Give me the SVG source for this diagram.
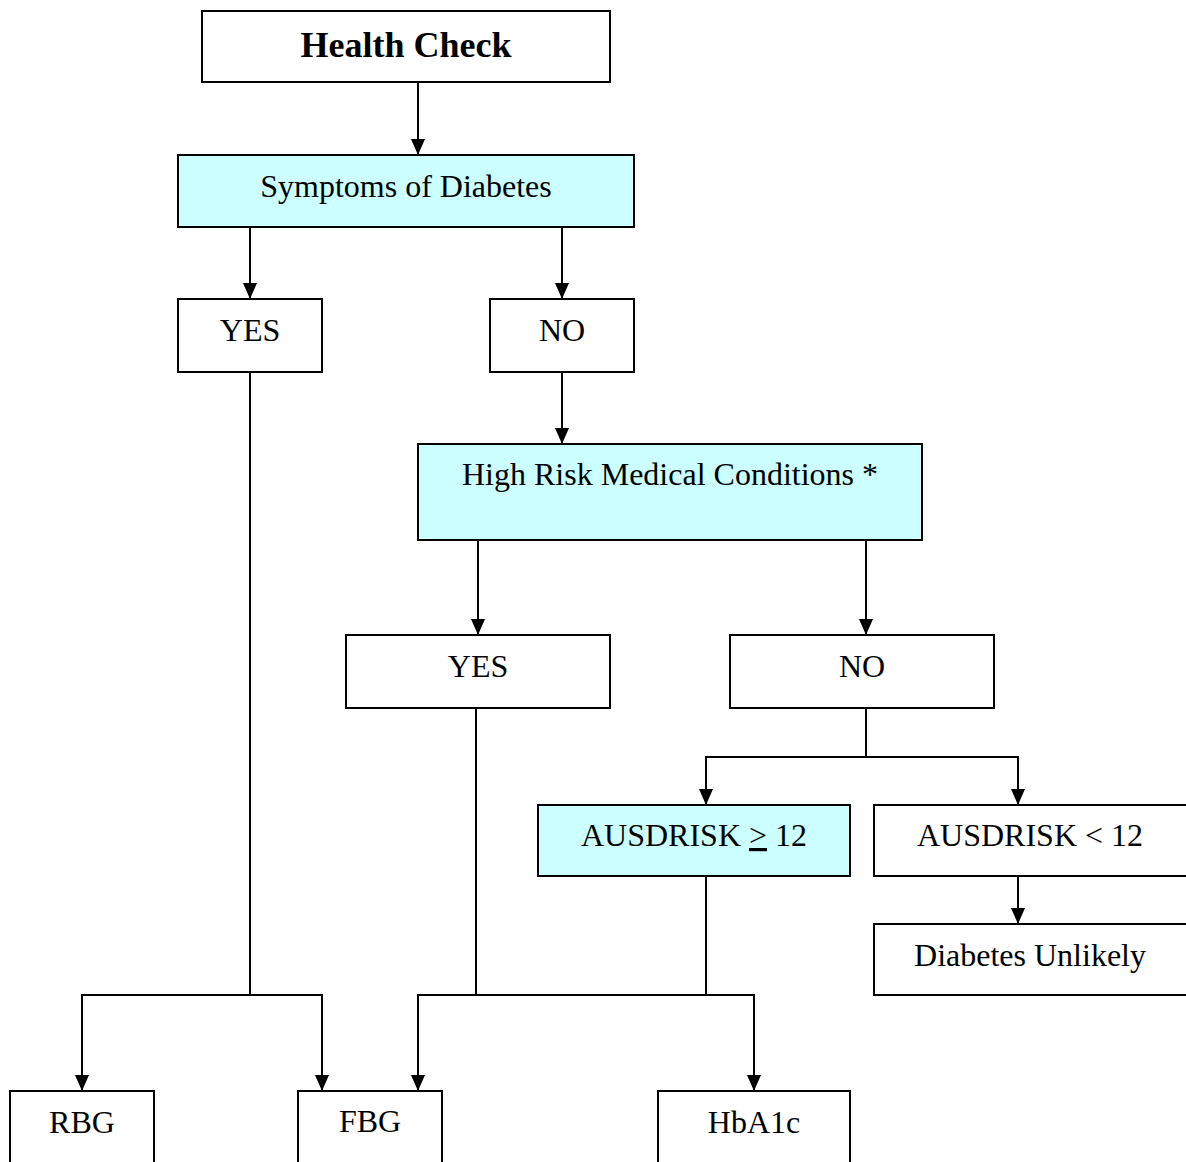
<svg xmlns="http://www.w3.org/2000/svg" width="1186" height="1162" viewBox="0 0 1186 1162">
<style>
.box{fill:#fff;stroke:#000;stroke-width:2}
.cyan{fill:#ccffff;stroke:#000;stroke-width:2}
.t{font-family:"Liberation Serif","Times New Roman",serif;font-size:32px;fill:#000;text-anchor:middle}
.b{font-weight:bold;font-size:36px}
.c{fill:none;stroke:#000;stroke-width:2}
</style>
<defs>
<marker id="ah" markerUnits="userSpaceOnUse" markerWidth="16" markerHeight="14" refX="16" refY="7" orient="auto" viewBox="0 0 16 14">
<path d="M0,0 L16,7 L0,14 Z" fill="#000"/>
</marker>
</defs>
<rect width="1186" height="1162" fill="#fff"/>
<g id="connectors">
<path class="c" d="M418,82 V155" marker-end="url(#ah)"/>
<path class="c" d="M250,227 V299" marker-end="url(#ah)"/>
<path class="c" d="M562,227 V299" marker-end="url(#ah)"/>
<path class="c" d="M562,372 V444" marker-end="url(#ah)"/>
<path class="c" d="M478,540 V635" marker-end="url(#ah)"/>
<path class="c" d="M866,540 V635" marker-end="url(#ah)"/>
<path class="c" d="M866,708 V757 H706 V805" marker-end="url(#ah)"/>
<path class="c" d="M866,757 H1018 V805" marker-end="url(#ah)"/>
<path class="c" d="M1018,876 V924" marker-end="url(#ah)"/>
<path class="c" d="M250,372 V995 H82 V1091" marker-end="url(#ah)"/>
<path class="c" d="M250,995 H322 V1091" marker-end="url(#ah)"/>
<path class="c" d="M476,708 V995 H418 V1091" marker-end="url(#ah)"/>
<path class="c" d="M476,995 H754 V1091" marker-end="url(#ah)"/>
<path class="c" d="M706,876 V995"/>
</g>
<g id="health-check"><rect class="box" x="202" y="11" width="408" height="71"/><text class="t b" x="406" y="57">Health Check</text></g>
<g id="symptoms"><rect class="cyan" x="178" y="155" width="456" height="72"/><text class="t" x="406" y="197">Symptoms of Diabetes</text></g>
<g id="yes1"><rect class="box" x="178" y="299" width="144" height="73"/><text class="t" x="250" y="341">YES</text></g>
<g id="no1"><rect class="box" x="490" y="299" width="144" height="73"/><text class="t" x="562" y="341">NO</text></g>
<g id="high-risk"><rect class="cyan" x="418" y="444" width="504" height="96"/><text class="t" x="670" y="485">High Risk Medical Conditions *</text></g>
<g id="yes2"><rect class="box" x="346" y="635" width="264" height="73"/><text class="t" x="478" y="677">YES</text></g>
<g id="no2"><rect class="box" x="730" y="635" width="264" height="73"/><text class="t" x="862" y="677">NO</text></g>
<g id="ausdrisk-ge"><rect class="cyan" x="538" y="805" width="312" height="71"/><text class="t" x="694" y="846">AUSDRISK <tspan text-decoration="underline">&gt;</tspan> 12</text></g>
<g id="ausdrisk-lt"><rect class="box" x="874" y="805" width="316" height="71"/><text class="t" x="1030" y="846">AUSDRISK &lt; 12</text></g>
<g id="unlikely"><rect class="box" x="874" y="924" width="316" height="71"/><text class="t" x="1030" y="966">Diabetes Unlikely</text></g>
<g id="rbg"><rect class="box" x="10" y="1091" width="144" height="80"/><text class="t" x="82" y="1133">RBG</text></g>
<g id="fbg"><rect class="box" x="298" y="1091" width="144" height="80"/><text class="t" x="370" y="1132">FBG</text></g>
<g id="hba1c"><rect class="box" x="658" y="1091" width="192" height="80"/><text class="t" x="754" y="1133">HbA1c</text></g>
</svg>
